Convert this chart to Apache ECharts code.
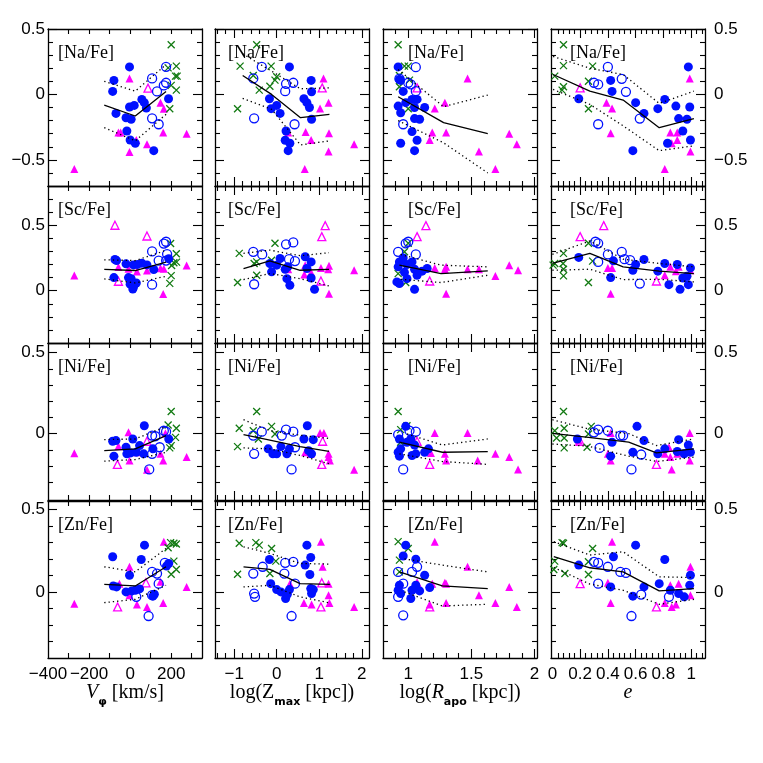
<!DOCTYPE html>
<html>
<head>
<meta charset="utf-8">
<script src="https://cdn.jsdelivr.net/npm/echarts@6/dist/echarts.min.js"></script>
<style>
  html, body { margin: 0; padding: 0; background: #fff; }
  #chart { width: 763px; height: 763px; }
</style>
</head>
<body>
<div id="chart"></div>
<script>
// ---- data: [x, y] per star, per panel ----
// row 1: [Na/Fe]
const naV_fill = [[-3,0.21],[-79,0.107],[-85,0.023],[-69,-0.145],[-3,-0.096],[20,-0.084],[-20,-0.178],[5,-0.19],[-16,-0.28],[0,-0.348],[25,-0.373],[115,-0.43],[57,-0.038],[69,-0.063],[79,-0.104],[187,-0.033]];
const naV_open = [[107,0.122],[175,0.211],[131,0.023],[164,0.069],[175,0.089],[107,-0.183],[139,-0.228]];
const naV_tri = [[-3,0.122],[-272,-0.571],[-57,-0.292],[-46,-0.292],[-3,-0.44],[30,-0.348],[82,-0.38],[148,-0.063],[164,-0.109],[161,-0.292],[275,-0.3]];
const naV_triOpen = [[87,0.048]];
const naV_x = [[200,0.38],[225,0.216],[185,0.203],[221,0.14],[229,0.14],[200,0.069],[225,0.033],[193,-0.109]];
const naV_med = [[-126,-0.081],[25,-0.165],[175,0.023]];
const naV_hi = [[-126,0.1],[25,0.025],[175,0.228]];
const naV_lo = [[-126,-0.254],[25,-0.355],[175,-0.152]];

const naZ_fill = [[0.30,0.21],[0.81,0.107],[0.82,0.02],[-0.17,-0.033],[-0.13,-0.109],[0,-0.084],[0.08,-0.145],[0.64,-0.033],[0.71,-0.063],[0.77,-0.1],[0.82,-0.19],[0.22,-0.28],[0.2,-0.35],[0.31,-0.373],[0.27,-0.43]];
const naZ_open = [[-0.35,0.21],[-0.55,0.122],[0.22,0.081],[0.39,0.089],[0.2,0.025],[-0.53,-0.183],[0.42,-0.228]];
const naZ_tri = [[1.1,0.122],[1.22,-0.063],[1.02,-0.107],[0.27,-0.292],[0.68,-0.287],[0.81,-0.348],[1.23,-0.297],[1.82,-0.38],[1.22,-0.437],[0.66,-0.571]];
const naZ_triOpen = [[1.07,0.05]];
const naZ_x = [[-0.47,0.38],[-0.86,0.216],[-0.13,0.216],[-0.55,0.145],[0,0.135],[-0.04,0.109],[-0.16,0.063],[-0.41,0.033],[-0.92,-0.109]];
const naZ_med = [[-0.8,0.145],[-0.12,0.0],[0.56,-0.178],[1.24,-0.152]];
const naZ_hi = [[-0.8,0.31],[-0.12,0.178],[0.56,0.043],[1.24,0.05]];
const naZ_lo = [[-0.8,-0.03],[-0.12,-0.114],[0.56,-0.386],[1.24,-0.355]];

const naR_fill = [[0.92,0.21],[0.93,0.114],[0.94,0.107],[0.96,0.023],[0.92,-0.089],[0.94,-0.14],[0.98,-0.063],[1.03,-0.038],[1.07,-0.038],[1.05,-0.1],[1.13,-0.1],[1.05,-0.185],[1.09,-0.19],[1.03,-0.284],[1.07,-0.35],[0.94,-0.373],[1.05,-0.43]];
const naR_open = [[1.06,0.208],[0.93,0.12],[1.0,0.089],[1.02,0.076],[1.06,0.025],[0.96,-0.228]];
const naR_tri = [[1.47,0.122],[1.29,-0.063],[1.21,-0.107],[1.19,-0.292],[1.17,-0.348],[1.3,-0.292],[1.56,-0.437],[1.69,-0.571],[1.8,-0.3],[1.86,-0.38]];
const naR_triOpen = [[1.07,0.05]];
const naR_x = [[0.92,0.38],[0.97,0.216],[1.0,0.216],[0.93,0.145],[1.01,0.109],[0.93,0.058],[1.0,-0.109]];
const naR_med = [[0.92,-0.018],[1.28,-0.216],[1.63,-0.3]];
const naR_hi = [[0.92,0.19],[1.28,-0.094],[1.63,-0.005]];
const naR_lo = [[0.92,-0.2],[1.28,-0.37],[1.63,-0.6]];

const naE_fill = [[0.19,-0.033],[0.42,0.107],[0.43,0.023],[0.60,-0.063],[0.66,-0.145],[0.58,-0.43],[0.76,-0.109],[0.81,-0.038],[0.83,-0.373],[0.89,-0.089],[0.91,-0.185],[0.94,-0.28],[0.97,-0.19],[0.98,0.21],[0.99,-0.096],[0.995,-0.348]];
const naE_open = [[0.40,0.21],[0.30,0.089],[0.33,0.076],[0.5,0.119],[0.53,0.02],[0.63,-0.185],[0.33,-0.228]];
const naE_tri = [[0.99,0.122],[0.39,-0.063],[0.43,-0.107],[0.42,-0.297],[0.85,-0.292],[0.86,-0.373],[0.9,-0.292],[0.9,-0.348],[0.81,-0.571],[0.995,-0.437]];
const naE_triOpen = [[0.2,0.05]];
const naE_x = [[0.08,0.38],[0.08,0.22],[0.29,0.216],[0.017,0.14],[0.26,0.1],[0.08,0.058],[0.07,0.033],[0.26,-0.109]];
const naE_med = [[0.005,0.152],[0.27,0.025],[0.51,-0.043],[0.77,-0.254],[1.02,-0.185]];
const naE_hi = [[0.005,0.29],[0.27,0.2],[0.51,0.152],[0.77,-0.069],[1.02,0.025]];
const naE_lo = [[0.005,0.038],[0.27,-0.076],[0.51,-0.24],[0.77,-0.43],[1.02,-0.393]];

// row 2: [Sc/Fe]
const scV_fill = [[-74,0.238],[-66,0.23],[-79,0.1],[-20,0.205],[16,0.197],[57,0.21],[-8,0.1],[5,0.092],[0,0.05],[16,0.026],[13,0.013],[30,0.059],[115,0.162],[188,0.244],[82,0.197],[35,0.2]];
const scV_open = [[107,0.3],[164,0.36],[175,0.374],[139,0.23],[180,0.28],[107,0.046],[175,0.23]];
const scV_tri = [[-272,0.115],[-57,0.18],[-8,0.167],[33,0.146],[82,0.154],[148,0.172],[164,0.167],[161,-0.026],[275,0.192]];
const scV_triOpen = [[-74,0.5],[82,0.418],[-57,0.072]];
const scV_x = [[197,0.36],[225,0.282],[202,0.192],[213,0.213],[226,0.218],[200,0.115],[193,0.056]];
const scV_med = [[-126,0.162],[25,0.154],[175,0.218]];
const scV_hi = [[-126,0.236],[25,0.23],[175,0.308]];
const scV_lo = [[-126,0.09],[25,0.059],[175,0.11]];

const scZ_fill = [[-0.16,0.208],[-0.12,0.144],[0,0.195],[0.08,0.246],[0.2,0.164],[0.26,0.182],[0.24,0.092],[0.31,0.041],[0.67,0.259],[0.81,0.22],[0.71,0.169],[0.81,0.097],[0.89,0.01]];
const scZ_open = [[-0.55,0.297],[-0.34,0.277],[0.22,0.354],[0.39,0.369],[0.29,0.241],[0.43,0.226],[-0.53,0.049]];
const scZ_tri = [[0.27,0.164],[0.67,0.195],[0.65,0.123],[0.81,0.138],[1.04,0.174],[1.23,0.19],[1.21,0.164],[1.82,0.156],[1.23,-0.023]];
const scZ_triOpen = [[1.14,0.497],[1.06,0.413],[1.04,0.074]];
const scZ_x = [[-0.88,0.285],[-0.04,0.362],[-0.53,0.208],[-0.47,0.22],[-0.12,0.233],[-0.47,0.118],[-0.92,0.062]];
const scZ_med = [[-0.78,0.169],[-0.16,0.228],[0.55,0.156],[1.23,0.162]];
const scZ_hi = [[-0.78,0.285],[-0.16,0.31],[0.55,0.267],[1.23,0.29]];
const scZ_lo = [[-0.78,0.085],[-0.16,0.131],[0.55,0.092],[1.23,0.036]];

const scR_fill = [[0.93,0.22],[0.96,0.25],[0.92,0.182],[0.91,0.067],[0.93,0.054],[0.99,0.092],[1.03,0.22],[1.05,0.164],[1.07,0.118],[1.05,0.01],[1.11,0.149],[1.15,0.169],[0.99,0.2],[0.97,0.14]];
const scR_open = [[0.92,0.297],[0.98,0.362],[1.0,0.374],[1.06,0.277]];
const scR_tri = [[1.21,0.174],[1.3,0.182],[1.29,0.164],[1.47,0.164],[1.56,0.164],[1.69,0.113],[1.8,0.195],[1.87,0.156],[1.3,-0.023]];
const scR_triOpen = [[1.14,0.497],[1.07,0.413],[1.17,0.074]];
const scR_x = [[1.0,0.362],[0.97,0.297],[0.92,0.13],[0.98,0.062]];
const scR_med = [[0.93,0.195],[1.26,0.131],[1.63,0.151]];
const scR_hi = [[0.94,0.277],[1.26,0.195],[1.63,0.182]];
const scR_lo = [[0.94,0.087],[1.26,0.062],[1.63,0.118]];

const scE_fill = [[0.19,0.254],[0.42,0.1],[0.44,0.228],[0.58,0.156],[0.6,0.2],[0.66,0.238],[0.76,0.149],[0.81,0.208],[0.84,0.046],[0.9,0.2],[0.92,0.01],[0.94,0.097],[0.97,0.11],[0.98,0.046],[0.995,0.174]];
const scE_open = [[0.31,0.374],[0.33,0.362],[0.4,0.277],[0.33,0.22],[0.5,0.297],[0.52,0.241],[0.56,0.233],[0.63,0.054]];
const scE_tri = [[0.4,0.174],[0.43,0.174],[0.42,-0.023],[0.81,0.118],[0.85,0.182],[0.89,0.149],[0.91,0.182],[0.995,0.156]];
const scE_triOpen = [[0.2,0.413],[0.37,0.497],[0.75,0.074]];
const scE_x = [[0.08,0.285],[0.017,0.208],[0.005,0.195],[0.077,0.208],[0.08,0.164],[0.08,0.113],[0.26,0.362],[0.29,0.226],[0.26,0.062]];
const scE_med = [[0,0.208],[0.27,0.285],[0.51,0.182],[0.77,0.149],[1.02,0.131]];
const scE_hi = [[0,0.277],[0.27,0.38],[0.51,0.241],[0.77,0.208],[1.02,0.182]];
const scE_lo = [[0,0.156],[0.27,0.164],[0.51,0.085],[0.77,0.087],[1.02,0.067]];

// row 3: [Ni/Fe]
const niV_fill = [[-85,-0.047],[-69,-0.043],[-79,-0.139],[-20,-0.084],[-16,-0.125],[3,-0.119],[13,-0.033],[30,-0.115],[46,-0.074],[69,0.049],[66,-0.125],[111,-0.094],[188,-0.033]];
const niV_open = [[107,-0.012],[123,-0.016],[107,-0.125],[144,-0.084],[164,0.018],[175,0.012],[93,-0.221]];
const niV_tri = [[-272,-0.121],[-57,-0.078],[-8,0.008],[-3,-0.166],[33,-0.115],[82,-0.223],[148,-0.125],[161,-0.166],[172,0.002],[275,-0.145]];
const niV_triOpen = [[-62,-0.19],[82,-0.047]];
const niV_x = [[200,0.137],[185,0.053],[225,0.033],[221,-0.023],[200,-0.074],[193,-0.088]];
const niV_med = [[-126,-0.105],[25,-0.094],[175,-0.012]];
const niV_hi = [[-126,-0.037],[25,-0.033],[175,0.045]];
const niV_lo = [[-126,-0.17],[25,-0.16],[175,-0.115]];

const niZ_fill = [[-0.2,-0.094],[-0.09,-0.125],[0,-0.125],[0.24,-0.125],[0.3,-0.094],[0.64,-0.033],[0.72,0.049],[0.86,-0.037],[0.82,-0.125],[0.75,-0.105],[0.1,-0.08]];
const niZ_open = [[-0.55,-0.012],[-0.53,-0.125],[-0.35,0.012],[0.12,-0.012],[0.22,0.025],[0.39,0.012],[0.43,-0.084],[0.35,-0.221]];
const niZ_tri = [[0.3,-0.084],[0.67,-0.115],[0.8,-0.125],[1.02,0.004],[1.11,0.004],[1.22,-0.125],[1.22,-0.145],[1.25,-0.166],[1.82,-0.223]];
const niZ_triOpen = [[1.08,-0.047],[1.06,-0.19]];
const niZ_x = [[-0.47,0.137],[-0.88,0.033],[-0.12,0.045],[-0.04,-0.002],[-0.55,0.018],[-0.43,-0.033],[-0.92,-0.08]];
const niZ_med = [[-0.78,-0.006],[-0.16,-0.04],[0.55,-0.08],[1.23,-0.11]];
const niZ_hi = [[-0.78,0.086],[-0.16,0.018],[0.55,-0.01],[1.23,-0.029]];
const niZ_lo = [[-0.78,-0.088],[-0.16,-0.094],[0.55,-0.135],[1.23,-0.186]];

const niR_fill = [[0.98,0.045],[0.93,-0.033],[0.92,-0.115],[0.93,-0.139],[0.94,-0.094],[0.99,-0.053],[1.02,-0.033],[1.03,-0.135],[1.06,-0.125],[1.13,-0.115],[1.16,-0.094],[1.05,-0.07]];
const niR_open = [[0.92,-0.006],[0.96,-0.221],[1.01,0.018],[1.06,0.012]];
const niR_tri = [[1.21,0.004],[1.47,0.004],[1.18,-0.119],[1.29,-0.125],[1.3,-0.166],[1.55,-0.166],[1.69,-0.125],[1.8,-0.145],[1.87,-0.221]];
const niR_triOpen = [[1.07,-0.047],[1.17,-0.19]];
const niR_x = [[0.92,0.137],[0.94,0.025],[0.99,0.049],[0.94,-0.053]];
const niR_med = [[0.93,-0.053],[1.27,-0.115],[1.63,-0.111]];
const niR_hi = [[0.99,-0.002],[1.27,-0.07],[1.63,-0.033]];
const niR_lo = [[0.93,-0.125],[1.27,-0.172],[1.63,-0.19]];

const niE_fill = [[0.18,-0.033],[0.43,-0.053],[0.42,-0.139],[0.61,0.045],[0.66,-0.043],[0.58,-0.115],[0.76,-0.125],[0.81,-0.094],[0.91,-0.037],[0.95,-0.125],[0.98,-0.07],[0.995,-0.115],[0.9,-0.11]];
const niE_open = [[0.3,0.008],[0.33,0.025],[0.4,0.018],[0.49,-0.012],[0.51,-0.012],[0.34,-0.088],[0.64,-0.129],[0.57,-0.221]];
const niE_tri = [[0.19,-0.043],[0.4,-0.125],[0.42,-0.166],[0.42,0.004],[0.84,-0.084],[0.81,-0.125],[0.85,-0.145],[0.86,-0.221],[0.9,-0.125],[0.99,0.004],[0.99,-0.166]];
const niE_triOpen = [[0.2,-0.047],[0.75,-0.19]];
const niE_x = [[0.08,0.137],[0.017,0.018],[0.03,-0.027],[0.085,0.033],[0.085,-0.027],[0.085,-0.088],[0.28,0.045],[0.26,-0.002],[0.25,-0.084]];
const niE_med = [[0,0.002],[0.26,-0.023],[0.55,-0.053],[0.75,-0.119],[1.02,-0.094]];
const niE_hi = [[0,0.086],[0.26,0.029],[0.55,0.0],[0.75,-0.074],[1.02,-0.033]];
const niE_lo = [[0,-0.064],[0.26,-0.078],[0.55,-0.139],[0.75,-0.172],[1.02,-0.145]];

// row 4: [Zn/Fe]
const znV_fill = [[-85,0.213],[-82,0.036],[-66,0.03],[-3,0.101],[-20,0],[8,0.006],[25,0.01],[54,0.196],[70,0.283],[46,0.018],[111,-0.026],[118,-0.014],[177,0.156],[188,0.172]];
const znV_open = [[107,0.121],[131,0.111],[169,0.176],[139,0.05],[107,-0.02],[30,-0.03],[90,-0.146]];
const znV_tri = [[-272,-0.071],[-3,0.152],[-52,0.05],[-3,-0.02],[33,-0.077],[82,-0.091],[164,0.304],[161,-0.067],[148,0.061],[275,0.03]];
const znV_triOpen = [[-61,-0.091],[77,0.055]];
const znV_x = [[197,0.298],[213,0.294],[225,0.29],[185,0.267],[213,0.186],[225,0.136],[200,0.107]];
const znV_med = [[-126,0.045],[25,0.036],[175,0.152]];
const znV_hi = [[-126,0.152],[25,0.121],[175,0.263]];
const znV_lo = [[-126,-0.065],[25,-0.045],[175,0.04]];

const znZ_fill = [[-0.17,0.196],[-0.14,0.05],[0,0.014],[0.21,-0.04],[0.25,-0.014],[0.3,0.014],[0.67,0.162],[0.71,0.283],[0.8,0.208],[0.78,0.105],[0.8,0.02],[0.86,0.014],[0.82,-0.01],[0.1,0.0]];
const znZ_open = [[-0.55,0.111],[-0.53,-0.01],[-0.51,-0.03],[-0.33,0.152],[0.2,0.176],[0.39,0.182],[0.18,0.111],[0.43,0.05],[0.35,-0.146]];
const znZ_tri = [[0.31,0.05],[0.64,-0.067],[0.82,-0.077],[1.04,0.304],[1.08,0.152],[1.22,0.05],[1.22,-0.02],[1.24,-0.067],[1.82,-0.091]];
const znZ_triOpen = [[1.06,0.055],[1.04,-0.091]];
const znZ_x = [[-0.88,0.294],[-0.49,0.298],[-0.41,0.283],[-0.12,0.263],[-0.02,0.186],[-0.16,0.111],[-0.92,0.107]];
const znZ_med = [[-0.78,0.152],[-0.16,0.136],[0.55,0.05],[1.25,0.045]];
const znZ_hi = [[-0.78,0.273],[-0.16,0.233],[0.55,0.172],[1.25,0.168]];
const znZ_lo = [[-0.78,0.03],[-0.16,0.04],[0.55,-0.03],[1.25,-0.067]];

const znR_fill = [[0.98,0.283],[0.96,0.217],[0.93,0.04],[0.94,-0.01],[1.02,-0.04],[1.06,0.198],[1.03,0.01],[1.06,0.04],[1.09,0.006],[1.13,0.101],[1.17,0.026],[0.92,0.01]];
const znR_open = [[0.92,0.121],[0.92,-0.03],[0.96,-0.142],[0.96,0.05],[1.03,0.121],[1.07,0.152]];
const znR_tri = [[1.21,0.304],[1.47,0.152],[1.19,0.05],[1.29,0.055],[1.3,0.05],[1.17,-0.077],[1.3,-0.067],[1.56,-0.02],[1.69,-0.067],[1.8,0.03],[1.86,-0.091]];
const znR_triOpen = [[1.07,0.05],[1.17,-0.091]];
const znR_x = [[0.92,0.304],[1.0,0.263],[0.93,0.192],[0.93,0.121]];
const znR_med = [[0.93,0.121],[1.27,0.036],[1.63,0.02]];
const znR_hi = [[0.97,0.2],[1.27,0.162],[1.63,0.121]];
const znR_lo = [[0.97,0.0],[1.27,-0.085],[1.63,-0.075]];

const znE_fill = [[0.19,0.162],[0.44,0.213],[0.42,0.03],[0.6,0.283],[0.58,-0.026],[0.66,0.03],[0.77,0.05],[0.81,0.196],[0.85,0.01],[0.91,-0.01],[0.95,-0.03],[0.99,0.04],[0.995,0.101]];
const znE_open = [[0.3,0.182],[0.33,0.176],[0.4,0.152],[0.33,0.05],[0.49,0.121],[0.53,0.115],[0.64,-0.016],[0.57,-0.146],[0.84,-0.03]];
const znE_tri = [[0.43,0.304],[0.4,0.055],[0.42,-0.067],[0.81,-0.067],[0.85,0.04],[0.86,-0.091],[0.89,-0.077],[0.91,0.05],[0.995,0.152],[0.995,-0.02]];
const znE_triOpen = [[0.2,0.05],[0.75,-0.091]];
const znE_x = [[0.07,0.298],[0.08,0.294],[0.017,0.186],[0.01,0.136],[0.09,0.111],[0.29,0.263],[0.26,0.182],[0.26,0.105]];
const znE_med = [[0.01,0.213],[0.27,0.146],[0.51,0.121],[0.77,0.006],[1.02,0.02]];
const znE_hi = [[0.01,0.304],[0.27,0.223],[0.51,0.243],[0.77,0.091],[1.02,0.087]];
const znE_lo = [[0.01,0.148],[0.27,0.047],[0.51,0.01],[0.77,-0.075],[1.02,-0.045]];

// ---- axis ticks and labels ----
const rowNames = ['[Na/Fe]', '[Sc/Fe]', '[Ni/Fe]', '[Zn/Fe]'];
const vphiLabels = [-400, -200, 0, 200];
const vphiMajor = [];
const vphiMinor = [-300, -200, -100, 0, 100, 200, 300];
const zmaxLabels = [-1, 0, 1, 2];
const zmaxMajor = [-1, 0, 1, 2];
const zmaxMinor = [-1.4, -1.2, -0.8, -0.6, -0.4, -0.2, 0.2, 0.4, 0.6, 0.8, 1.2, 1.4, 1.6, 1.8];
const rapoLabels = [1, 1.5, 2];
const rapoMajor = [1, 1.5, 2];
const rapoMinor = [0.9, 1.1, 1.2, 1.3, 1.4, 1.6, 1.7, 1.8, 1.9];
const eccLabels = [0, 0.2, 0.4, 0.6, 0.8, 1];
const eccMajor = [0.2, 0.4, 0.6, 0.8, 1];
const eccMinor = [0.04, 0.08, 0.12, 0.16, 0.24, 0.28, 0.32, 0.36, 0.44, 0.48, 0.52, 0.56,
  0.64, 0.68, 0.72, 0.76, 0.84, 0.88, 0.92, 0.96, 1.04, 1.08];
const naLabels = [-0.5, 0, 0.5];
const naMajor = [-0.5, 0, 0.5];
const naMinor = [-0.6, -0.4, -0.3, -0.2, -0.1, 0.1, 0.2, 0.3, 0.4];
const scLabels = [0, 0.5];
const scMajor = [0, 0.5];
const scMinor = [-0.3, -0.2, -0.1, 0.1, 0.2, 0.3, 0.4, 0.6, 0.7];
const niLabels = [0, 0.5];
const niMajor = [0, 0.5];
const niMinor = [-0.3, -0.2, -0.1, 0.1, 0.2, 0.3, 0.4];
const znLabels = [0, 0.5];
const znMajor = [0, 0.5];
const znMinor = [-0.3, -0.2, -0.1, 0.1, 0.2, 0.3, 0.4];

const xCols = [
  { min: -400, max: 350, labels: vphiLabels, major: vphiMajor, minor: vphiMinor,
    name: '{i|V}{s|φ}{n| [km/s]}' },
  { min: -1.45, max: 2.17, labels: zmaxLabels, major: zmaxMajor, minor: zmaxMinor,
    name: '{n|log(Z}{s|max}{n| [kpc])}' },
  { min: 0.8, max: 2.02, labels: rapoLabels, major: rapoMajor, minor: rapoMinor,
    name: '{n|log(}{i|R}{s|apo}{n| [kpc])}' },
  { min: -0.01, max: 1.1, labels: eccLabels, major: eccMajor, minor: eccMinor,
    name: '{i|e}' }
];
const yRows = [
  { min: -0.7, max: 0.5, labels: naLabels, major: naMajor, minor: naMinor },
  { min: -0.4, max: 0.8, labels: scLabels, major: scMajor, minor: scMinor },
  { min: -0.41, max: 0.56, labels: niLabels, major: niMajor, minor: niMinor },
  { min: -0.4, max: 0.55, labels: znLabels, major: znMajor, minor: znMinor }
];

const panels = [
  [[naV_fill, naV_open, naV_tri, naV_triOpen, naV_x, naV_med, naV_hi, naV_lo],
   [naZ_fill, naZ_open, naZ_tri, naZ_triOpen, naZ_x, naZ_med, naZ_hi, naZ_lo],
   [naR_fill, naR_open, naR_tri, naR_triOpen, naR_x, naR_med, naR_hi, naR_lo],
   [naE_fill, naE_open, naE_tri, naE_triOpen, naE_x, naE_med, naE_hi, naE_lo]],
  [[scV_fill, scV_open, scV_tri, scV_triOpen, scV_x, scV_med, scV_hi, scV_lo],
   [scZ_fill, scZ_open, scZ_tri, scZ_triOpen, scZ_x, scZ_med, scZ_hi, scZ_lo],
   [scR_fill, scR_open, scR_tri, scR_triOpen, scR_x, scR_med, scR_hi, scR_lo],
   [scE_fill, scE_open, scE_tri, scE_triOpen, scE_x, scE_med, scE_hi, scE_lo]],
  [[niV_fill, niV_open, niV_tri, niV_triOpen, niV_x, niV_med, niV_hi, niV_lo],
   [niZ_fill, niZ_open, niZ_tri, niZ_triOpen, niZ_x, niZ_med, niZ_hi, niZ_lo],
   [niR_fill, niR_open, niR_tri, niR_triOpen, niR_x, niR_med, niR_hi, niR_lo],
   [niE_fill, niE_open, niE_tri, niE_triOpen, niE_x, niE_med, niE_hi, niE_lo]],
  [[znV_fill, znV_open, znV_tri, znV_triOpen, znV_x, znV_med, znV_hi, znV_lo],
   [znZ_fill, znZ_open, znZ_tri, znZ_triOpen, znZ_x, znZ_med, znZ_hi, znZ_lo],
   [znR_fill, znR_open, znR_tri, znR_triOpen, znR_x, znR_med, znR_hi, znR_lo],
   [znE_fill, znE_open, znE_tri, znE_triOpen, znE_x, znE_med, znE_hi, znE_lo]]
];

// ---- layout ----
const colLeft = [48, 215, 383, 551];
const rowTop = [29, 186, 343, 501];
const panelW = 154, panelH = 157;
const tagOffset = [5, 8, 20, 14];

const BLUE = '#0010ff', MAGENTA = '#ff00ff', GREEN = '#127a12';
const crossPath = 'path://M0,0L10,10M10,0L0,10';

function fmt(v) {
  return String(v).replace('-', '\u2212');
}

const grid = [], xAxis = [], yAxis = [], series = [], title = [];

// one side of a panel frame: major (long ticks + line + labels) or minor (short ticks)
function sideAxis(kind, gi, cfg, pos, isMajor, showLabel, opts) {
  opts = opts || {};
  const ax = {
    gridIndex: gi, type: 'value', position: pos,
    min: cfg.min, max: cfg.max,
    splitLine: { show: false },
    axisLine: { show: isMajor, onZero: false, lineStyle: { color: '#000', width: 1.3 } },
    axisTick: { show: true, inside: true, length: isMajor ? 9 : 5,
      customValues: isMajor ? cfg.major : cfg.minor,
      lineStyle: { color: '#000', width: 1.1 } },
    axisLabel: { show: showLabel, customValues: cfg.labels, formatter: fmt,
      showMinLabel: true, showMaxLabel: true, hideOverlap: false,
      margin: opts.margin != null ? opts.margin : 8,
      color: '#000', fontFamily: 'Liberation Sans', fontSize: 17 }
  };
  if (opts.name) {
    ax.name = opts.name;
    ax.nameLocation = 'middle';
    ax.nameGap = opts.nameGap;
    ax.nameMoveOverlap = false;
    ax.nameTextStyle = opts.nameTextStyle;
  }
  const list = kind === 'x' ? xAxis : yAxis;
  list.push(ax);
  return list.length - 1;
}

const nameStyle = {
  color: '#000', fontFamily: 'Liberation Serif', fontSize: 20, lineHeight: 30,
  rich: {
    n: { fontFamily: 'Liberation Serif', fontSize: 20, lineHeight: 30, color: '#000' },
    i: { fontFamily: 'Liberation Serif', fontStyle: 'italic', fontSize: 20, lineHeight: 30, color: '#000' },
    s: { fontFamily: 'DejaVu Sans', fontWeight: 'bold', fontSize: 11, lineHeight: 13, verticalAlign: 'bottom', color: '#000' }
  }
};

for (let r = 0; r < 4; r++) {
  for (let c = 0; c < 4; c++) {
    const gi = grid.length;
    grid.push({ left: colLeft[c], top: rowTop[r], width: panelW, height: panelH });
    const xc = xCols[c], yc = yRows[r];
    const bottomRow = r === 3;
    const xi = sideAxis('x', gi, xc, 'bottom', true, bottomRow,
      bottomRow ? { margin: 8, name: xc.name, nameGap: 20, nameTextStyle: nameStyle } : null);
    sideAxis('x', gi, xc, 'bottom', false, false);
    sideAxis('x', gi, xc, 'top', true, false);
    sideAxis('x', gi, xc, 'top', false, false);
    const yi = sideAxis('y', gi, yc, 'left', true, c === 0, { margin: 3 });
    sideAxis('y', gi, yc, 'left', false, false);
    sideAxis('y', gi, yc, 'right', true, c === 3, { margin: 9 });
    sideAxis('y', gi, yc, 'right', false, false);

    const d = panels[r][c];
    const base = { xAxisIndex: xi, yAxisIndex: yi, animation: false, silent: true };
    series.push(Object.assign({ type: 'scatter', data: d[2], symbol: 'triangle', symbolSize: 8,
      itemStyle: { color: MAGENTA, opacity: 1 } }, base));
    series.push(Object.assign({ type: 'scatter', data: d[3], symbol: 'triangle', symbolSize: 8,
      itemStyle: { color: 'rgba(0,0,0,0)', borderColor: MAGENTA, borderWidth: 1.3, opacity: 1 } }, base));
    series.push(Object.assign({ type: 'scatter', data: d[4], symbol: crossPath, symbolSize: 7,
      itemStyle: { color: 'rgba(0,0,0,0)', borderColor: GREEN, borderWidth: 1.3, opacity: 1 } }, base));
    series.push(Object.assign({ type: 'scatter', data: d[0], symbol: 'circle', symbolSize: 9,
      itemStyle: { color: BLUE, opacity: 1 } }, base));
    series.push(Object.assign({ type: 'scatter', data: d[1], symbol: 'circle', symbolSize: 9,
      itemStyle: { color: 'rgba(0,0,0,0)', borderColor: BLUE, borderWidth: 1.3, opacity: 1 } }, base));
    series.push(Object.assign({ type: 'line', data: d[5], symbol: 'none', z: 5,
      lineStyle: { color: '#000', width: 1.3 } }, base));
    series.push(Object.assign({ type: 'line', data: d[6], symbol: 'none', z: 5,
      lineStyle: { color: '#000', width: 1.3, type: [1.3, 3] } }, base));
    series.push(Object.assign({ type: 'line', data: d[7], symbol: 'none', z: 5,
      lineStyle: { color: '#000', width: 1.3, type: [1.3, 3] } }, base));

    title.push({ text: rowNames[r], left: colLeft[c] + tagOffset[c], top: rowTop[r] + 10,
      textStyle: { fontFamily: 'Liberation Serif', fontWeight: 'normal', fontSize: 18, color: '#000' } });
  }
}

const chart = echarts.init(document.getElementById('chart'), null, { renderer: 'canvas' });
chart.setOption({
  backgroundColor: '#fff',
  animation: false,
  title: title,
  grid: grid,
  xAxis: xAxis,
  yAxis: yAxis,
  series: series
});
</script>
</body>
</html>
